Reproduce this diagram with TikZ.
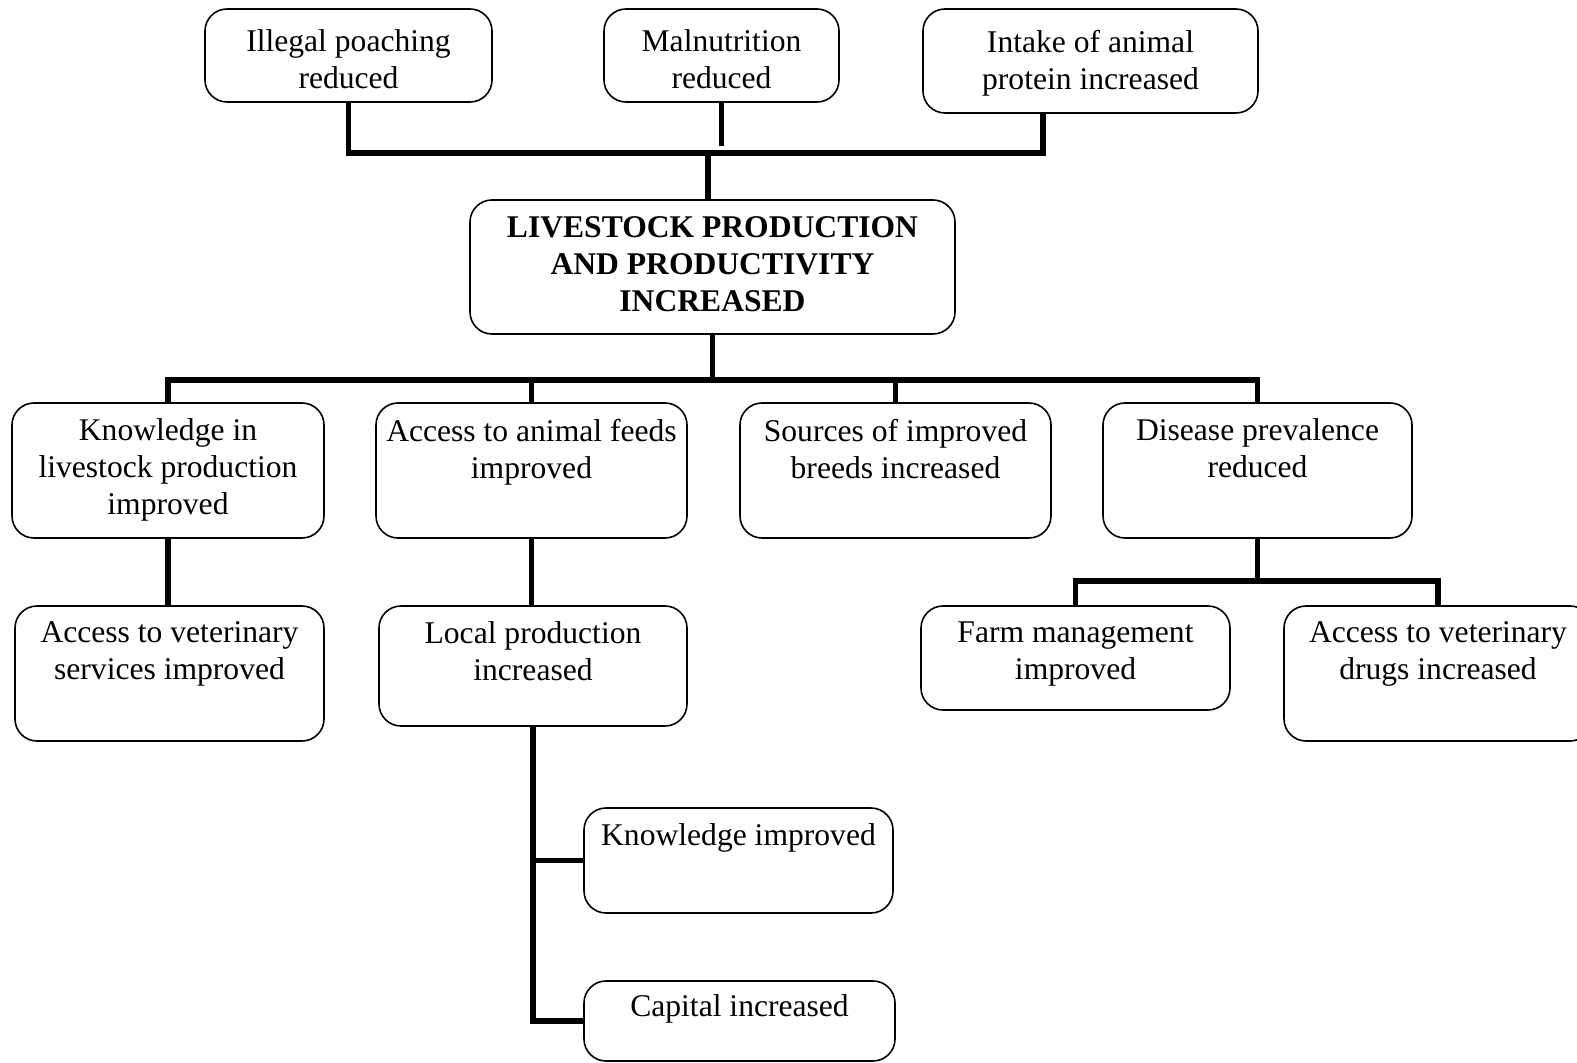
\documentclass[tikz,border=0pt]{standalone}
\usepackage{fontspec}
\setmainfont{Liberation Serif}
\tikzset{
  box/.style={draw=black, line width=0.8pt, rounded corners=11pt, inner sep=0pt},
  txt/.style={inner sep=0pt, align=center, font=\fontsize{15.8}{18.5}\selectfont},
  conn/.style={line width=2.6pt, line join=miter}
}
% [text offset], name, left, top, right, bottom (in px units), text
\newcommand\mkbox[7][15.5]{%
  \pgfmathsetmacro\bw{(#5-#3)*0.5}%
  \pgfmathsetmacro\bh{(#6-#4)*0.5}%
  \node[box, minimum width=\bw pt, minimum height=\bh pt] (#2) at ({(#3+#5)/2},{(#4+#6)/2}) {};
  \node[txt, anchor=north] (#2t) at ({(#3+#5)/2},{#4+#1}) {#7};
}
\begin{document}
\begin{tikzpicture}[x=0.5pt, y=-0.5pt]
\useasboundingbox (0,0) rectangle (1577,1063);
\clip (0,0) rectangle (1577,1063);

% top row of outcomes
\mkbox[20.5]{b1}{205}{9}{492}{102}{Illegal poaching\\reduced}
\mkbox[20.5]{b2}{604}{9}{839}{102}{Malnutrition\\reduced}
\mkbox[21]{b3}{923}{9}{1258}{113}{Intake of animal\\protein increased}

% central goal
\mkbox[16]{b4}{470}{200}{955}{334}{\bfseries LIVESTOCK PRODUCTION\\\bfseries AND PRODUCTIVITY\\\bfseries INCREASED}

% second row
\mkbox{b5}{12}{403}{324}{538}{Knowledge in\\livestock production\\improved}
\mkbox{b6}{376}{403}{687}{538}{Access to animal feeds\\improved}
\mkbox{b7}{740}{403}{1051}{538}{Sources of improved\\breeds increased}
\mkbox{b8}{1103}{403}{1412}{538}{Disease prevalence\\reduced}

% third row
\mkbox{b9}{15}{606}{324}{741}{Access to veterinary\\services improved}
\mkbox{b10}{379}{606}{687}{726}{Local production\\increased}
\mkbox{b11}{921}{606}{1230}{710}{Farm management\\improved}
\mkbox{b12}{1284}{606}{1592}{741}{Access to veterinary\\drugs increased}

% bottom branch
\mkbox{b13}{584}{808}{893}{913}{Knowledge improved}
\mkbox[13.5]{b14}{584}{981}{895}{1061}{Capital increased}

% bus lines
\coordinate (topbus) at (708,153);
\coordinate (midbus) at (0,380);
\coordinate (dbus) at (0,581);
\coordinate (b3drop) at (1043,113);

% top connectors
\draw[conn] (b1.south) -- (b1.south |- topbus) -- (b3drop |- topbus) -- (b3drop);
\draw[conn] (b2.south) -- ++(0,43);
\draw[conn] (topbus) -- ([xshift=-2.25pt]b4.north);

% central goal to second row
\draw[conn] (b4.south) -- (b4.south |- midbus);
\draw[conn] (b5.north) -- (b5.north |- midbus) -- (b8.north |- midbus) -- (b8.north);
\draw[conn] (b6.north) -- (b6.north |- midbus);
\draw[conn] (b7.north) -- (b7.north |- midbus);

% second row to third row
\draw[conn] (b5.south) -- (b5.south |- b9.north);
\draw[conn] (b6.south) -- (b6.south |- b10.north);
\draw[conn] (b8.south) -- (b8.south |- dbus);
\draw[conn] (b11.north) -- (b11.north |- dbus) -- (b12.north |- dbus) -- (b12.north);

% local production branch
\draw[conn] (b10.south) -- (b10.south |- b14.west) -- (b14.west);
\draw[conn] (b10.south |- b13.west) -- (b13.west);
\end{tikzpicture}
\end{document}
